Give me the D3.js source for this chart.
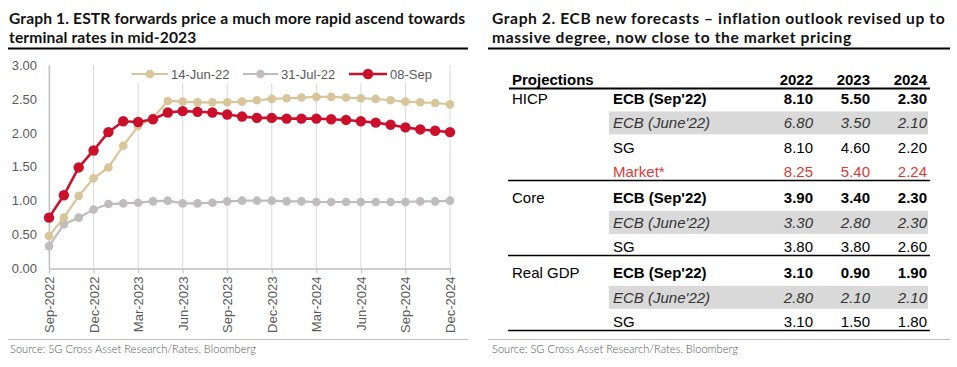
<!DOCTYPE html>
<html><head><meta charset="utf-8">
<script src="https://cdn.jsdelivr.net/npm/d3@7"></script>
<style>
html,body{margin:0;padding:0;background:#fff;}
svg{display:block;}
</style></head>
<body>
<svg id="c" width="957" height="367"></svg>
<script>
// ---------- DATA ----------
const categories = ["Sep-2022","Oct-2022","Nov-2022","Dec-2022","Jan-2023","Feb-2023","Mar-2023","Apr-2023","May-2023","Jun-2023","Jul-2023","Aug-2023","Sep-2023","Oct-2023","Nov-2023","Dec-2023","Jan-2024","Feb-2024","Mar-2024","Apr-2024","May-2024","Jun-2024","Jul-2024","Aug-2024","Sep-2024","Oct-2024","Nov-2024","Dec-2024"];
const tickLabels = ["Sep-2022","Dec-2022","Mar-2023","Jun-2023","Sep-2023","Dec-2023","Mar-2024","Jun-2024","Sep-2024","Dec-2024"];
const yTicks = [0,0.5,1,1.5,2,2.5,3];
const seriesNames = ["14-Jun-22","31-Jul-22","08-Sep"];
const jun14 = [0.48,0.75,1.07,1.33,1.49,1.81,2.10,2.22,2.47,2.46,2.45,2.45,2.45,2.46,2.48,2.50,2.51,2.52,2.53,2.53,2.52,2.51,2.50,2.48,2.46,2.45,2.44,2.42];
const jul31 = [0.33,0.65,0.75,0.87,0.95,0.96,0.97,0.99,1.00,0.96,0.96,0.97,0.99,1.00,1.00,1.00,0.99,0.99,0.98,0.98,0.98,0.98,0.98,0.98,0.98,0.99,0.99,1.00];
const sep08 = [0.75,1.08,1.49,1.74,2.01,2.17,2.16,2.20,2.30,2.32,2.31,2.30,2.27,2.24,2.22,2.22,2.21,2.21,2.21,2.20,2.19,2.17,2.15,2.12,2.08,2.05,2.03,2.01];

const title1 = ["Graph 1. ESTR forwards price a much more rapid ascend towards","terminal rates in mid-2023"];
const title2 = ["Graph 2. ECB new forecasts \u2013 inflation outlook revised up to","massive degree, now close to the market pricing"];
const sourceText = "Source: SG Cross Asset Research/Rates, Bloomberg";

const tableHeader = "Projections";
const years = ["2022","2023","2024"];
const rowGroups = ["HICP","HICP","HICP","HICP","Core","Core","Core","Real GDP","Real GDP","Real GDP"];
const rowSources = ["ECB (Sep'22)","ECB (June'22)","SG","Market*","ECB (Sep'22)","ECB (June'22)","SG","ECB (Sep'22)","ECB (June'22)","SG"];
const v2022 = [8.10,6.80,8.10,8.25,3.90,3.30,3.80,3.10,2.80,3.10];
const v2023 = [5.50,3.50,4.60,5.40,3.40,2.80,3.80,0.90,2.10,1.50];
const v2024 = [2.30,2.10,2.20,2.24,2.30,2.30,2.60,1.90,2.10,1.80];

// ---------- LAYOUT ----------
const svg = d3.select("#c");
svg.append("rect").attr("width",957).attr("height",367).attr("fill","#fff");

const TITLE_FONT = "Lato, 'Source Sans Pro', sans-serif";
const TITLE_FS = 15.6;
function drawTitle(lines, x, targetW){
  const t = svg.append("text").attr("font-family",TITLE_FONT).attr("font-weight",700)
    .attr("font-size",TITLE_FS).attr("fill","#111");
  const spans = lines.map((s,i)=>t.append("tspan").attr("x",x).attr("y",24+i*18.9).text(s));
  const w = spans[0].node().getComputedTextLength();
  const ls = (targetW - w)/(lines[0].length-1);
  t.attr("letter-spacing",ls);
}
drawTitle(title1, 9, 456);
drawTitle(title2, 492, 453);
// title underlines
svg.append("line").attr("x1",8).attr("x2",468).attr("y1",48.5).attr("y2",48.5).attr("stroke","#000").attr("stroke-width",2);
svg.append("line").attr("x1",488).attr("x2",950).attr("y1",48.5).attr("y2",48.5).attr("stroke","#000").attr("stroke-width",2);
// source lines
svg.append("line").attr("x1",8).attr("x2",468).attr("y1",339.5).attr("y2",339.5).attr("stroke","#bdbdbd").attr("stroke-width",1);
svg.append("line").attr("x1",488).attr("x2",950).attr("y1",339.5).attr("y2",339.5).attr("stroke","#bdbdbd").attr("stroke-width",1);
[10,492].forEach(x=>{
  const t = svg.append("text").attr("x",x).attr("y",353).attr("font-family",TITLE_FONT)
    .attr("font-weight",300).attr("font-size",11.5).attr("fill","#555").text(sourceText);
  const w = t.node().getComputedTextLength();
  t.attr("font-size",11.5*246/w);
});

// ---------- CHART ----------
const CF = "Arial, 'Liberation Sans', sans-serif";
const x = d3.scalePoint().domain(categories).range([49,450]);
const y = d3.scaleLinear().domain([0,3]).range([268.5,65]);

// gridlines
svg.append("g").selectAll("line").data(tickLabels).join("line")
  .attr("x1",d=>x(d)).attr("x2",d=>x(d)).attr("y1",y(3)).attr("y2",y(0))
  .attr("stroke","#d9d9d9").attr("stroke-width",1);

// y axis
const yAxis = svg.append("g").attr("transform","translate(49,0)")
  .call(d3.axisLeft(y).tickValues(yTicks).tickFormat(d3.format(".2f")).tickSize(0).tickPadding(12));
yAxis.select(".domain").attr("stroke","#bfbfbf").attr("stroke-width",1.3);
yAxis.selectAll("text").attr("font-family",CF).attr("font-size",13).attr("fill","#595959");

// x axis
const xAxis = svg.append("g").attr("transform",`translate(0,${y(0)})`)
  .call(d3.axisBottom(x).tickValues(tickLabels).tickSize(5).tickSizeOuter(0));
xAxis.select(".domain").attr("stroke","#bfbfbf").attr("stroke-width",1.3);
xAxis.selectAll(".tick line").attr("stroke","#bfbfbf");
xAxis.selectAll("text").attr("font-family",CF).attr("font-size",13).attr("fill","#595959")
  .attr("transform","rotate(-90)").attr("text-anchor","end").attr("dx",-8).attr("dy",4.5).attr("y",0).attr("x",0);

const series = [
  {name:seriesNames[0], vals:jun14, color:"#d8c599", lw:2.2, r:4.3},
  {name:seriesNames[1], vals:jul31, color:"#c0bcbd", lw:2.2, r:4.3},
  {name:seriesNames[2], vals:sep08, color:"#cc0f2b", lw:2.6, r:5.2}
];
const drawOrder = [1,0,2];
const line = d3.line().x((d,i)=>x(categories[i])).y(d=>y(d));
drawOrder.forEach(k=>{
  const s = series[k];
  const g = svg.append("g");
  g.append("path").attr("d",line(s.vals)).attr("fill","none").attr("stroke",s.color).attr("stroke-width",s.lw);
  g.selectAll("circle").data(s.vals).join("circle")
    .attr("cx",(d,i)=>x(categories[i])).attr("cy",d=>y(d)).attr("r",s.r).attr("fill",s.color);
});

// legend
const legendX = [132,243,349];
const legendW = [36,35,38];
series.forEach((s,i)=>{
  const g = svg.append("g");
  const ly = 74;
  g.append("rect").attr("x",legendX[i]-1).attr("y",ly-9).attr("width",legendW[i]+2+ (i==0?65:i==1?57:45)).attr("height",18).attr("fill","#fff");
  g.append("line").attr("x1",legendX[i]).attr("x2",legendX[i]+legendW[i]).attr("y1",ly).attr("y2",ly)
    .attr("stroke",s.color).attr("stroke-width",s.lw);
  g.append("circle").attr("cx",legendX[i]+legendW[i]/2).attr("cy",ly).attr("r",s.r).attr("fill",s.color);
  g.append("text").attr("x",legendX[i]+legendW[i]+3).attr("y",ly+4.6).attr("font-family",CF).attr("font-size",13)
    .attr("fill","#595959").text(s.name);
});

// ---------- TABLE ----------
const TF = "Arial, 'Liberation Sans', sans-serif";
const colRight = [813,870,927];
const groupX = 512, srcX = 613;
const tbl = svg.append("g").attr("font-family",TF).attr("font-size",15);
const groupOrder = Array.from(new Set(rowGroups));
const rowCenter = i => 98.5 + i*24.4 + groupOrder.indexOf(rowGroups[i])*1.8;
const headerY = 80;
tbl.append("text").attr("x",groupX).attr("y",headerY+5.3).attr("font-weight",700).attr("fill","#000").text(tableHeader);
years.forEach((yr,j)=>tbl.append("text").attr("x",colRight[j]).attr("y",headerY+5.3).attr("text-anchor","end")
  .attr("font-weight",700).attr("fill","#000").text(yr));
tbl.append("line").attr("x1",509).attr("x2",930).attr("y1",88.5).attr("y2",88.5).attr("stroke","#000").attr("stroke-width",2);

const vals = rowSources.map((s,i)=>[v2022[i],v2023[i],v2024[i]]);
rowSources.forEach((src,i)=>{
  const cy = rowCenter(i);
  const isSep = src.indexOf("Sep")>=0, isJun = src.indexOf("June")>=0, isMkt = src.indexOf("Market")>=0;
  if(isJun) tbl.append("rect").attr("x",609).attr("width",319).attr("y",cy-11.5).attr("height",23).attr("fill","#d9d9d9");
  const color = isMkt ? "#dc3a35" : (isJun ? "#333" : "#000");
  if(i===0 || rowGroups[i]!==rowGroups[i-1])
    tbl.append("text").attr("x",groupX).attr("y",cy+5.3).attr("fill","#000").text(rowGroups[i]);
  const st = t => t.attr("fill",color).attr("font-weight",isSep?700:400).attr("font-style",isJun?"italic":"normal");
  st(tbl.append("text").attr("x",srcX).attr("y",cy+5.3).text(src));
  vals[i].forEach((v,j)=>st(tbl.append("text").attr("x",colRight[j]).attr("y",cy+5.3).attr("text-anchor","end").text(d3.format(".2f")(v))));
  if(i===rowGroups.length-1 || rowGroups[i]!==rowGroups[i+1])
    tbl.append("line").attr("x1",508).attr("x2",930).attr("y1",cy+8.7).attr("y2",cy+8.7).attr("stroke","#000").attr("stroke-width",1.5);
});
</script>
</body></html>
